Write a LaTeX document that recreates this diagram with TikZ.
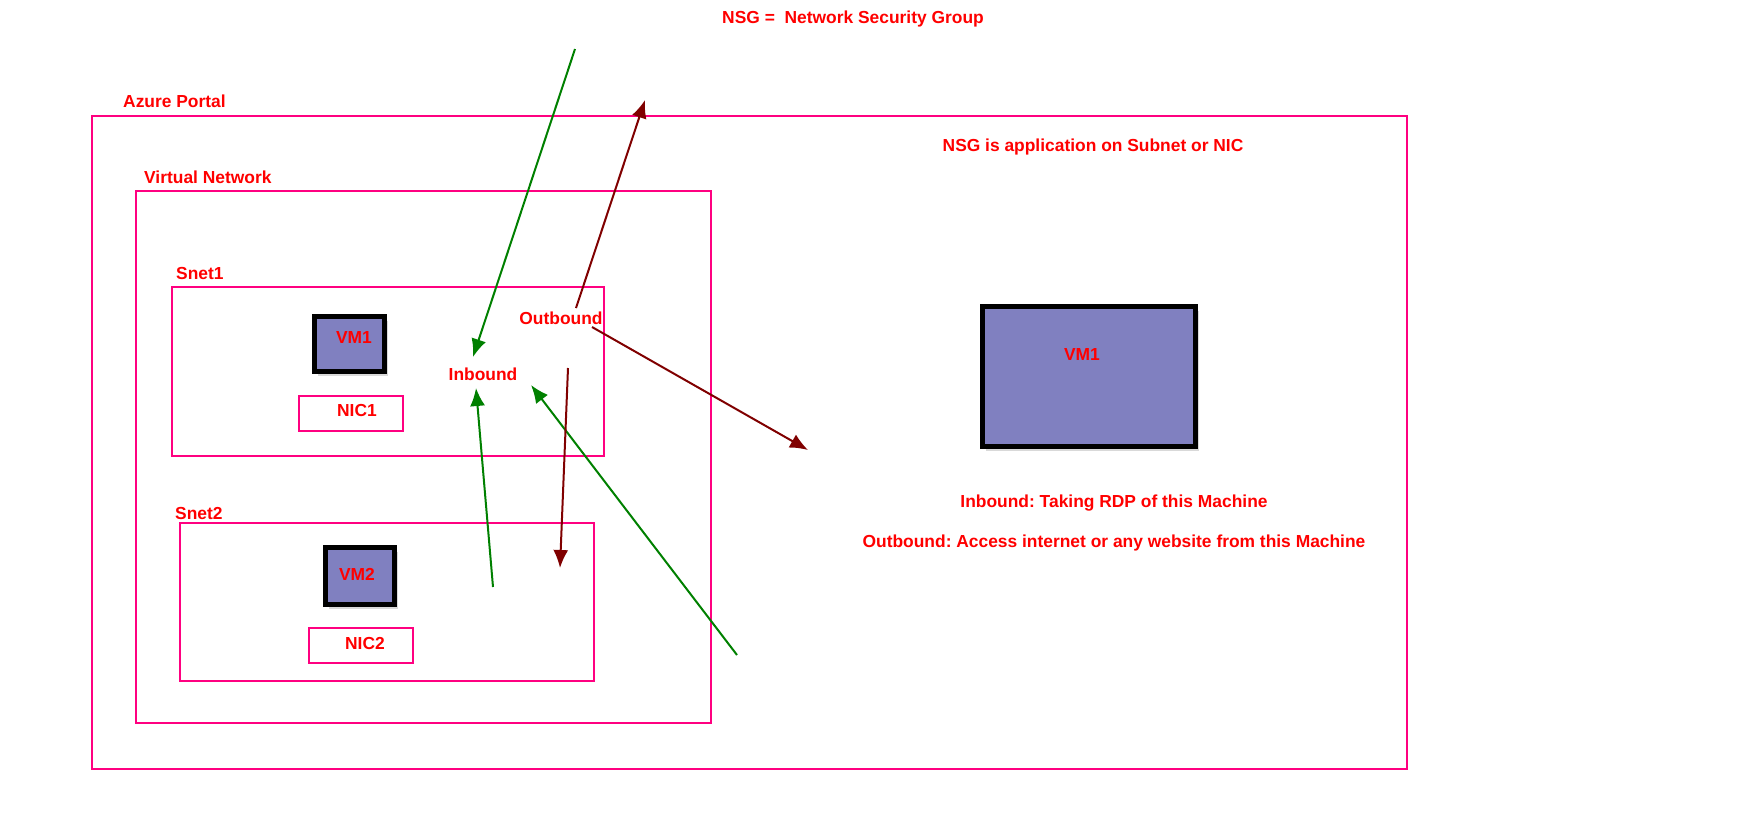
\documentclass[tikz,border=0pt]{standalone}
\usepackage{fontspec}
\setmainfont{Liberation Sans}
\frenchspacing
\usetikzlibrary{arrows.meta,shadows}
\definecolor{nsgred}{RGB}{255,0,0}
\definecolor{boxpink}{RGB}{255,0,128}
\definecolor{vmfill}{RGB}{128,128,192}
\definecolor{ingreen}{RGB}{0,128,0}
\definecolor{outred}{RGB}{128,0,0}
\tikzset{
  lbl/.style={text=nsgred, font=\bfseries\fontsize{17.4}{20}\selectfont, inner sep=0pt},
  netbox/.style={draw=boxpink, line width=2pt, inner sep=0pt},
  vmbox/.style={draw=black, line width=5pt, fill=vmfill, inner sep=0pt,
    drop shadow={opacity=0.3, shadow xshift=3pt, shadow yshift=-4pt}},
  tipshape/.style={-{Latex[length=18pt,width=15pt]}},
  inarrow/.style={color=ingreen, line width=2pt, tipshape},
  outarrow/.style={color=outred, line width=2pt, tipshape},
}
\begin{document}
\begin{tikzpicture}[x=1pt,y=-1pt]
            \useasboundingbox (0,0) rectangle (1750,825);
            % boxes
            \node[netbox, minimum width=1315pt, minimum height=653pt] (azure) at (749.5,442.5) {};
            \node[netbox, minimum width=575pt, minimum height=532pt] (vnet) at (423.5,457) {};
            \node[netbox, minimum width=432pt, minimum height=169pt] (snet1) at (388,371.5) {};
            \node[netbox, minimum width=414pt, minimum height=158pt] (snet2) at (387,602) {};
            \node[netbox, minimum width=104pt, minimum height=35pt] (nic1) at (351,413.5) {};
            \node[netbox, minimum width=104pt, minimum height=35pt] (nic2) at (361,645.5) {};
            \node[vmbox, minimum width=70pt, minimum height=55pt] (vm1) at (349.5,344) {};
            \node[vmbox, minimum width=69pt, minimum height=57pt] (vm2) at (360,576) {};
            \node[vmbox, minimum width=213pt, minimum height=140pt] (bigvm) at (1089,376.5) {};
            % texts
            \node[lbl] (title) at (853,19) {NSG =\ \ Network Security Group};
            \node[lbl, anchor=west] (azurelbl) at (123,101) {Azure Portal};
            \node[lbl, anchor=west] (vnetlbl) at (144,177) {Virtual Network};
            \node[lbl, anchor=west] (snet1lbl) at (176,274) {Snet1};
            \node[lbl, anchor=west] (snet2lbl) at (175,514) {Snet2};
            \node[lbl] (applied) at (1093,147) {NSG is application on Subnet or NIC};
            \node[lbl] (vm1lbl) at (354,338) {VM1};
            \node[lbl] (nic1lbl) at (357,411) {NIC1};
            \node[lbl] (vm2lbl) at (357,574) {VM2};
            \node[lbl] (nic2lbl) at (365,643) {NIC2};
            \node[lbl] (bigvmlbl) at (1082,355) {VM1};
            \node[lbl] (inbound) at (483,374) {Inbound};
            \node[lbl] (outbound) at (561,318) {Outbound};
            \node[lbl] (inrule) at (1114,503) {Inbound: Taking RDP of this Machine};
            \node[lbl] (outrule) at (1114,543) {Outbound: Access internet or any website from this Machine};
            % arrow ends
            \coordinate (intop) at (575,49);
            \coordinate (inhead) at (473,357);
            \coordinate (insnet) at (493,587);
            \coordinate (inbelow) at (476,388);
            \coordinate (inout) at (737,655);
            \coordinate (inright) at (531,385);
            \coordinate (outstart) at (576,308);
            \coordinate (outtop) at (645,100);
            \coordinate (outside) at (592,327);
            \coordinate (outvm) at (808,450);
            \coordinate (downstart) at (568,368);
            \coordinate (downsnet) at (560,568);
            % arrows
            \draw[inarrow] (intop) -- (inhead);
            \draw[inarrow] (insnet) -- (inbelow);
            \draw[inarrow] (inout) -- (inright);
            \draw[outarrow] (outstart) -- (outtop);
            \draw[outarrow] (outside) -- (outvm);
            \draw[outarrow] (downstart) -- (downsnet);
\end{tikzpicture}
\end{document}
